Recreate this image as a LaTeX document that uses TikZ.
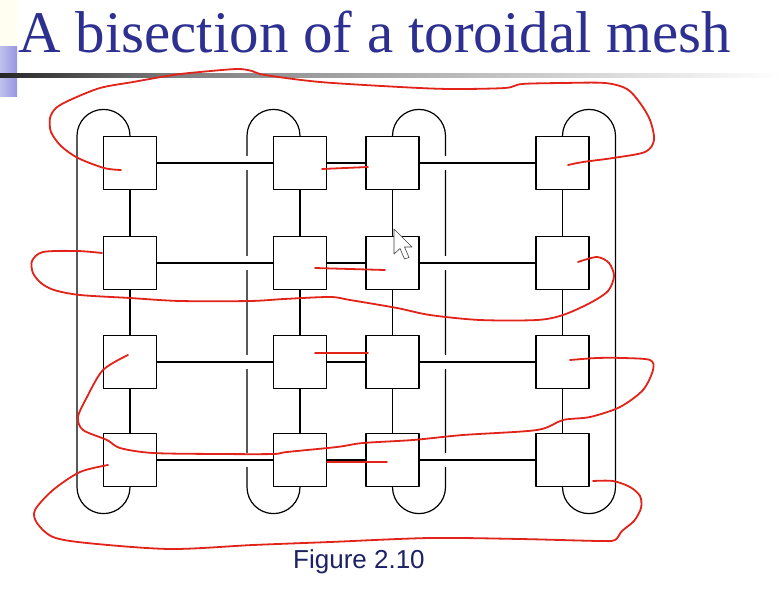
\documentclass[tikz,border=0pt]{standalone}
\usepackage{fontspec}
\setmainfont{Liberation Serif}
\newfontfamily\captionfont{Liberation Sans}
\definecolor{titleblue}{RGB}{45,48,145}
\definecolor{captionblue}{RGB}{30,34,100}
\definecolor{penred}{RGB}{225,35,25}
\definecolor{barlilac}{RGB}{150,150,225}

\begin{document}
\begin{tikzpicture}[x=1pt,y=-1pt,line cap=round,line join=round,
  every node/.style={inner sep=0pt},
  pe/.style={draw,fill=white,line width=1.2pt,minimum size=53pt},
  wire/.style={line width=1.2pt},
  crossing/.style={wire,preaction={draw=white,line width=14pt,line cap=butt,shorten <=2pt,shorten >=2pt}},
  pen/.style={draw=penred,line width=1.8pt}]
  \def\rad{26.5}
  \useasboundingbox[fill=white] (0,0) rectangle (781,591);
  % slide decoration
  \fill[yellow!6] (0,0) rectangle (17,47);
  \shade[left color=barlilac!60,right color=barlilac] (0,47) rectangle (17,97);
  \shade[left color=black!85,right color=black!50] (0,74) rectangle (180,78);
  \shade[left color=black!50,right color=white] (180,74) rectangle (781,78);
  \node[anchor=base west,text=titleblue,font=\fontsize{59}{60}\selectfont] (title) at (18,53) {A bisection of a toroidal mesh};
  % processors
  \node[pe] (p11) at (130,163) {};
  \node[pe] (p12) at (300,163) {};
  \node[pe] (p13) at (392.5,163) {};
  \node[pe] (p14) at (562.5,163) {};
  \node[pe] (p21) at (130,263) {};
  \node[pe] (p22) at (300,263) {};
  \node[pe] (p23) at (392.5,263) {};
  \node[pe] (p24) at (562.5,263) {};
  \node[pe] (p31) at (130,362) {};
  \node[pe] (p32) at (300,362) {};
  \node[pe] (p33) at (392.5,362) {};
  \node[pe] (p34) at (562.5,362) {};
  \node[pe] (p41) at (130,460) {};
  \node[pe] (p42) at (300,460) {};
  \node[pe] (p43) at (392.5,460) {};
  \node[pe] (p44) at (562.5,460) {};
  % wraparound links
  \draw[wire] (p11.north) arc[start angle=0,end angle=-180,radius=\rad] -- ([xshift=-53pt]p41.south) arc[start angle=180,end angle=0,radius=\rad];
  \draw[wire] (p12.north) arc[start angle=0,end angle=-180,radius=\rad] -- ([xshift=-53pt]p42.south) arc[start angle=180,end angle=0,radius=\rad];
  \draw[wire] (p13.north) arc[start angle=180,end angle=360,radius=\rad] -- ([xshift=53pt]p43.south) arc[start angle=0,end angle=180,radius=\rad];
  \draw[wire] (p14.north) arc[start angle=180,end angle=360,radius=\rad] -- ([xshift=53pt]p44.south) arc[start angle=0,end angle=180,radius=\rad];
  % mesh links
  \draw[wire] (p11) -- (p21) -- (p31) -- (p41);
  \draw[wire] (p12) -- (p22) -- (p32) -- (p42);
  \draw[wire] (p13) -- (p23) -- (p33) -- (p43);
  \draw[wire] (p14) -- (p24) -- (p34) -- (p44);
  \draw[crossing] (p11) -- (p12);
  \draw[crossing] (p21) -- (p22);
  \draw[crossing] (p31) -- (p32);
  \draw[crossing] (p41) -- (p42);
  \draw[wire] (p12) -- (p13);
  \draw[wire] (p22) -- (p23);
  \draw[wire] (p32) -- (p33);
  \draw[wire] (p42) -- (p43);
  \draw[crossing] (p13) -- (p14);
  \draw[crossing] (p23) -- (p24);
  \draw[crossing] (p33) -- (p34);
  \draw[crossing] (p43) -- (p44);
  % the bisection, drawn by hand
  \draw[pen] plot[smooth] coordinates {(121,170) (104,168) (78,158) (61,146) (51,132) (50,118) (56,108) (70,100) (100,88) (133,82) (173,75) (200,72) (237,69) (252,71) (265,75) (320,82) (400,87) (450,89) (505,88) (522,84) (563,83) (605,83) (627,89) (640,103) (650,120) (654,140) (645,152) (613,158) (583,162) (568,165)};
  \draw[pen] (322,169) -- (368,167);
  \draw[pen] plot[smooth] coordinates {(102,253) (77,251) (43,252) (32,261) (33,273) (41,283) (54,290) (80,295) (130,298) (180,301) (250,301) (284,299) (330,297) (350,300) (397,308) (430,315) (480,320) (537,320) (563,315) (590,303) (608,291) (614,276) (609,263) (597,257) (578,262)};
  \draw[pen] (315,268) -- (385,270);
  \draw[pen] (315,353) -- (368,353);
  \draw[pen] plot[smooth] coordinates {(128,355) (103,370) (87,397) (78,417) (83,430) (107,440) (120,448) (153,453) (220,454) (273,454) (287,452) (337,447) (363,443) (413,440) (463,435) (537,430) (563,420) (590,417) (620,407) (643,390) (653,370) (650,360) (623,358) (597,358) (570,360)};
  \draw[pen] (327,462) -- (387,462);
  \draw[pen] plot[smooth] coordinates {(108,465) (80,472) (53,490) (35,510) (37,523) (53,537) (87,543) (170,549) (253,545) (330,542) (430,538) (520,539) (600,541) (615,540) (622,531) (634,521) (641,508) (640,496) (630,487) (613,481) (593,481)};
  % mouse pointer
  \draw[black!75,fill=white,line width=0.6pt] (394,229) -- ++(0,25) -- ++(6,-5.5) -- ++(4.5,10.5) -- ++(4.5,-1.5) -- ++(-4.5,-10.5) -- ++(7.5,0) -- cycle;
  \node[anchor=base west,text=captionblue,font=\captionfont\fontsize{26}{28}\selectfont] (caption) at (293,568) {Figure 2.10};
\end{tikzpicture}
\end{document}
